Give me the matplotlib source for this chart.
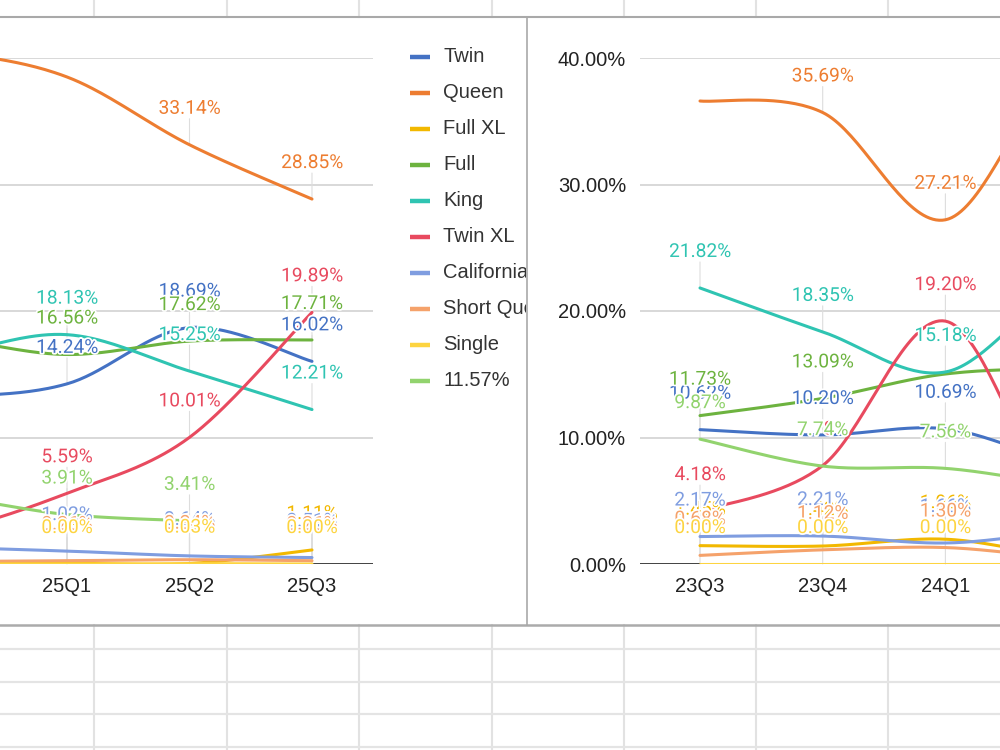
import numpy as np
import matplotlib
matplotlib.use("Agg")
import matplotlib.pyplot as plt
import matplotlib.patheffects as pe
from matplotlib.patches import Rectangle

# ---- data (percent shares per quarter) ----
series_names = ["Twin", "Queen", "Full XL", "Full", "King", "Twin XL",
                "California King", "Short Queen", "Single", "11.57%"]

# left chart (first two quarters fall outside the visible part)
left_quarters = ["24Q3", "24Q4", "25Q1", "25Q2", "25Q3"]
twin_l = [13.0, 13.2, 14.24, 18.69, 16.02]
queen_l = [41.0, 40.5, 38.50, 33.14, 28.85]
fullxl_l = [0.05, 0.05, 0.06, 0.04, 1.11]
full_l = [18.0, 17.8, 16.56, 17.62, 17.71]
king_l = [15.0, 16.5, 18.13, 15.25, 12.21]
twinxl_l = [2.0, 2.6, 5.59, 10.01, 19.89]
cal_l = [1.4, 1.3, 1.02, 0.64, 0.51]
shortq_l = [0.2, 0.2, 0.26, 0.34, 0.26]
single_l = [0.0, 0.0, 0.00, 0.03, 0.00]
lgreen_l = [5.5, 5.3, 3.91, 3.41, np.nan]

# right chart (last two quarters fall outside the visible part)
right_quarters = ["23Q3", "23Q4", "24Q1", "24Q2", "24Q3"]
twin_r = [10.62, 10.20, 10.69, 8.2, 9.0]
queen_r = [36.60, 35.69, 27.21, 39.5, 36.0]
fullxl_r = [1.45, 1.42, 1.96, 0.6, 0.5]
full_r = [11.73, 13.09, 15.02, 15.4, 15.0]
king_r = [21.82, 18.35, 15.18, 21.8, 20.0]
twinxl_r = [4.18, 7.78, 19.20, 4.2, 8.0]
cal_r = [2.17, 2.21, 1.66, 2.5, 2.4]
shortq_r = [0.68, 1.12, 1.30, 0.5, 0.5]
single_r = [0.0, 0.0, 0.0, 0.0, 0.0]
lgreen_r = [9.87, 7.74, 7.56, 6.3, 6.0]

left_data = [twin_l, queen_l, fullxl_l, full_l, king_l, twinxl_l,
             cal_l, shortq_l, single_l, lgreen_l]
right_data = [twin_r, queen_r, fullxl_r, full_r, king_r, twinxl_r,
              cal_r, shortq_r, single_r, lgreen_r]

# labels that the original chart does not show
hidden_labels = {("left", "Queen", "25Q1"), ("right", "Queen", "23Q3"),
                 ("right", "Full", "24Q1")}

colors = ["#4472c4", "#ed7d31", "#f2b800", "#6db33f", "#2fc4b2", "#e84a5f",
          "#7f9de0", "#f5a26b", "#fdd440", "#92d36e"]

TICK_FONT = "Liberation Sans"
LABEL_FONT = "Roboto"


def smooth(xs, ys, n=40):
    # Catmull-Rom style bezier smoothing, like spreadsheet "smoothed line"
    xs = np.asarray(xs, float)
    ys = np.asarray(ys, float)
    ok = ~np.isnan(ys)
    xs, ys = xs[ok], ys[ok]
    pts = np.column_stack([xs, ys])
    out = []
    for i in range(len(pts) - 1):
        p0 = pts[i - 1] if i > 0 else pts[i]
        p1, p2 = pts[i], pts[i + 1]
        p3 = pts[i + 2] if i + 2 < len(pts) else pts[i + 1]
        c1 = p1 + (p2 - p0) / 6
        c2 = p2 - (p3 - p1) / 6
        t = np.linspace(0, 1, n)[:, None]
        seg = ((1 - t) ** 3 * p1 + 3 * (1 - t) ** 2 * t * c1
               + 3 * (1 - t) * t ** 2 * c2 + t ** 3 * p2)
        out.append(seg if i == 0 else seg[1:])
    seg = np.vstack(out)
    return seg[:, 0], seg[:, 1]


fig = plt.figure(figsize=(10, 7.5), dpi=100)


def px_axes(x0, y0, x1, y1):
    return fig.add_axes([x0 / 1000, 1 - y1 / 750, (x1 - x0) / 1000, (y1 - y0) / 750])


# ---- spreadsheet background ----
bg = fig.add_axes([0, 0, 1, 1])
bg.set_xlim(0, 1000)
bg.set_ylim(750, 0)
bg.axis("off")
cell_x = [94, 227, 359, 492, 624, 756, 888]
cell_y = [649, 682, 714, 747]
for x in cell_x:
    bg.plot([x, x], [0, 17], color="#e2e2e2", lw=1.5)
    bg.plot([x, x], [625, 750], color="#e2e2e2", lw=1.5)
for y in cell_y:
    bg.plot([0, 1000], [y, y], color="#e4e4e4", lw=1.6)
bg.add_patch(Rectangle((-5, 17), 532, 608, fc="white", ec="none"))
bg.add_patch(Rectangle((527, 17), 480, 608, fc="white", ec="none"))
bg.plot([0, 1000], [17, 17], color="#a9a9a9", lw=1.5)
bg.plot([0, 1000], [625, 625], color="#ababab", lw=1.8)
bg.plot([527, 527], [17, 625], color="#a9a9a9", lw=1.2)


def draw_chart(ax, side, quarters, data, xlim, show_y):
    xs = np.arange(len(quarters))
    ax.patch.set_alpha(0)
    for s in ax.spines.values():
        s.set_visible(False)
    for v in [10, 20, 30, 40]:
        ax.axhline(v, color="#d6d6d6", lw=1.3, zorder=0.5)
    ax.axhline(0, color="#333333", lw=1.3, zorder=2)
    ax.set_xticks(xs, quarters)
    ax.tick_params(axis="x", length=0, pad=9, labelsize=14.5, labelcolor="#222222")
    if show_y:
        ax.set_yticks([0, 10, 20, 30, 40], [f"{v:.2f}%" for v in [0, 10, 20, 30, 40]])
        ax.tick_params(axis="y", length=0, pad=10, labelsize=14.5, labelcolor="#222222")
    else:
        ax.set_yticks([])
    for lab in ax.get_xticklabels() + ax.get_yticklabels():
        lab.set_fontfamily(TICK_FONT)
    # limits after the ticks, since set_xticks widens the view
    ax.set_xlim(*xlim)
    ax.set_ylim(0, 40)

    for name, vals, col in zip(series_names, data, colors):
        sx, sy = smooth(xs, vals)
        ax.plot(sx, sy, color=col, lw=2.2, zorder=3, solid_capstyle="round")

    for name, vals, col in zip(series_names, data, colors):
        for x, v, q in zip(xs, vals, quarters):
            if np.isnan(v) or (side, name, q) in hidden_labels:
                continue
            if not (xlim[0] < x < xlim[1]):
                continue
            ax.annotate("", xy=(x, v), xytext=(0, 26), textcoords="offset pixels",
                        arrowprops=dict(arrowstyle="-", color="#dddddd", lw=0.8,
                                        shrinkA=0, shrinkB=0), zorder=1)
            ax.annotate(f"{v:.2f}%", xy=(x, v), xytext=(0, 36),
                        textcoords="offset pixels", ha="center", va="center",
                        color=col, fontsize=13.8, fontfamily=LABEL_FONT, zorder=5,
                        annotation_clip=False,
                        path_effects=[pe.withStroke(linewidth=2.5, foreground="white")])
    ax.set_xlim(*xlim)
    ax.set_ylim(0, 40)


left_ax = px_axes(0, 58, 373, 564)
draw_chart(left_ax, "left", left_quarters, left_data, (1.453, 4.498), show_y=False)

right_ax = px_axes(640, 58, 1000, 564)
draw_chart(right_ax, "right", right_quarters, right_data, (-0.489, 2.445), show_y=True)

# ---- legend of the left chart (cut at the chart border) ----
lax = px_axes(380, 17, 526, 625)
lax.set_xlim(380, 526)
lax.set_ylim(625, 17)
lax.axis("off")
for k, (name, col) in enumerate(zip(series_names, colors)):
    y = 57 + 36 * k
    lax.plot([410, 430], [y, y], color=col, lw=3.2, solid_capstyle="butt")
    lax.text(443, y, name, ha="left", va="center", fontsize=14.5,
             fontfamily=TICK_FONT, color="#333333", clip_on=True)

fig.savefig("out.png", dpi=100)
